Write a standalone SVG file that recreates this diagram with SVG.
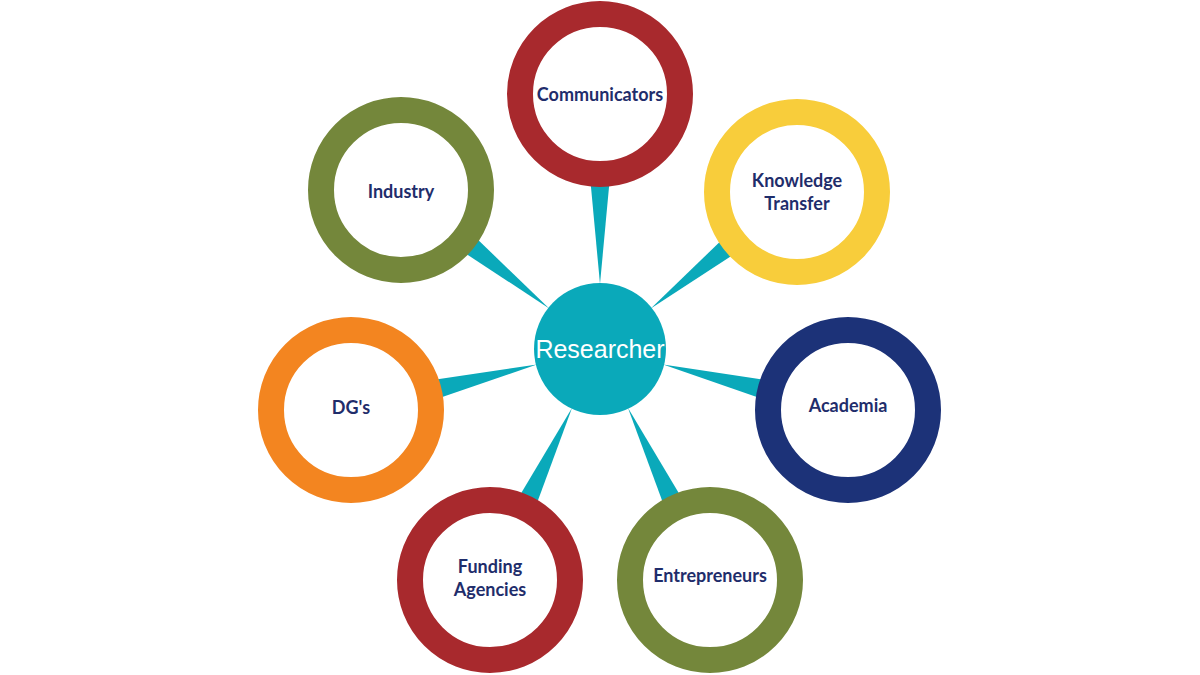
<svg xmlns="http://www.w3.org/2000/svg" width="1200" height="675" viewBox="0 0 1200 675">
<style>
.ring{fill:#ffffff;stroke-width:26}
.lbl{font-family:Lato,"Noto Sans","Liberation Sans",sans-serif;font-weight:bold;font-size:18px;fill:#1f2d6b;text-anchor:middle}
.wedge{fill:#0aa9ba}
</style>
<rect width="1200" height="675" fill="#ffffff"/>
<g id="connectors">
<polygon class="wedge" points="600,284 589.6,172 610.4,172"/>
<polygon class="wedge" points="650.8,308.5 742.5,248.7 729.5,232.5"/>
<polygon class="wedge" points="663.1,364.5 769.8,401.5 774.8,381.3"/>
<polygon class="wedge" points="627.9,407.7 667.1,514.1 685.9,505.1"/>
<polygon class="wedge" points="572.1,407.7 532.9,514.1 514.1,505.1"/>
<polygon class="wedge" points="536.9,364.5 429.2,401.5 424.2,381.3"/>
<polygon class="wedge" points="549.2,308.4 468.4,230.6 455.4,246.8"/>
</g>
<g id="researcher">
<circle cx="600" cy="349" r="66" fill="#0aa9ba"/>
<text x="600" y="358" font-family="'Liberation Sans',Arial,sans-serif" font-size="25" fill="#ffffff" text-anchor="middle">Researcher</text>
</g>
<g id="communicators">
<circle class="ring" cx="600" cy="94" r="80" stroke="#a8292d"/>
<text class="lbl" x="600" y="101">Communicators</text>
</g>
<g id="knowledge-transfer">
<circle class="ring" cx="797" cy="192" r="80" stroke="#f8cd3b"/>
<text class="lbl" x="797" y="187">Knowledge</text>
<text class="lbl" x="797" y="210">Transfer</text>
</g>
<g id="academia">
<circle class="ring" cx="848" cy="410" r="80" stroke="#1c3278"/>
<text class="lbl" x="848" y="412">Academia</text>
</g>
<g id="entrepreneurs">
<circle class="ring" cx="710" cy="580" r="80" stroke="#74873b"/>
<text class="lbl" x="710" y="582">Entrepreneurs</text>
</g>
<g id="funding-agencies">
<circle class="ring" cx="490" cy="580" r="80" stroke="#a8292d"/>
<text class="lbl" x="490" y="573">Funding</text>
<text class="lbl" x="490" y="596">Agencies</text>
</g>
<g id="dgs">
<circle class="ring" cx="351" cy="410" r="80" stroke="#f38520"/>
<text class="lbl" x="351" y="414">DG's</text>
</g>
<g id="industry">
<circle class="ring" cx="401" cy="190" r="80" stroke="#74873b"/>
<text class="lbl" x="401" y="198">Industry</text>
</g>
</svg>
